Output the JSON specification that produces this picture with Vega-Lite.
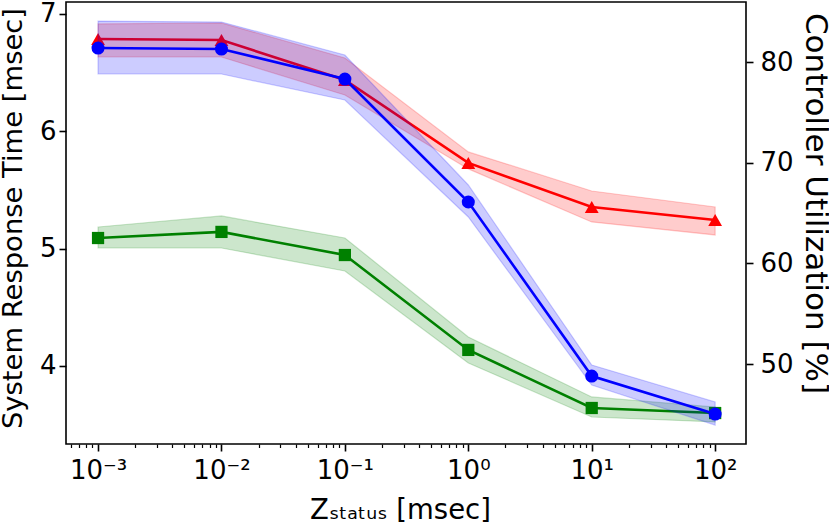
{
  "$schema": "https://vega.github.io/schema/vega-lite/v6.json",
  "width": 680,
  "height": 442,
  "autosize": {"type": "none"},
  "padding": {"left": 66, "top": 2, "right": 83, "bottom": 79},
  "background": "white",
  "config": {
    "font": "DejaVu Sans",
    "view": {"stroke": "black", "strokeWidth": 1.6},
    "axis": {
      "grid": false,
      "domain": false,
      "tickColor": "black",
      "tickWidth": 1.6,
      "tickSize": 7,
      "labelColor": "black",
      "titleColor": "black",
      "labelFont": "DejaVu Sans",
      "titleFont": "DejaVu Sans",
      "labelFontSize": 26,
      "titleFontSize": 27,
      "titleFontWeight": "normal"
    }
  },
  "datasets": {
    "d": [
      {"z": 0.001, "series": "Series 1", "mean": 6.787, "lo": 6.633, "hi": 6.915},
      {"z": 0.01, "series": "Series 1", "mean": 6.778, "lo": 6.633, "hi": 6.923},
      {"z": 0.1, "series": "Series 1", "mean": 6.437, "lo": 6.309, "hi": 6.625},
      {"z": 1, "series": "Series 1", "mean": 5.730, "lo": 5.679, "hi": 5.824},
      {"z": 10, "series": "Series 1", "mean": 5.355, "lo": 5.227, "hi": 5.491},
      {"z": 100, "series": "Series 1", "mean": 5.244, "lo": 5.116, "hi": 5.355},
      {"z": 0.001, "series": "Series 3", "mean": 5.090, "lo": 5.005, "hi": 5.184},
      {"z": 0.01, "series": "Series 3", "mean": 5.142, "lo": 5.005, "hi": 5.278},
      {"z": 0.1, "series": "Series 3", "mean": 4.945, "lo": 4.809, "hi": 5.090},
      {"z": 1, "series": "Series 3", "mean": 4.136, "lo": 4.025, "hi": 4.246},
      {"z": 10, "series": "Series 3", "mean": 3.641, "lo": 3.564, "hi": 3.735},
      {"z": 100, "series": "Series 3", "mean": 3.598, "lo": 3.522, "hi": 3.650},
      {"z": 0.001, "series": "Series 2", "mean": 81.39, "lo": 78.81, "hi": 84.07},
      {"z": 0.01, "series": "Series 2", "mean": 81.29, "lo": 78.81, "hi": 83.97},
      {"z": 0.1, "series": "Series 2", "mean": 78.31, "lo": 76.23, "hi": 80.70},
      {"z": 1, "series": "Series 2", "mean": 66.10, "lo": 64.61, "hi": 67.79},
      {"z": 10, "series": "Series 2", "mean": 48.82, "lo": 47.92, "hi": 49.91},
      {"z": 100, "series": "Series 2", "mean": 45.04, "lo": 43.95, "hi": 46.24}
    ]
  },
  "data": {"name": "d"},
  "resolve": {"scale": {"y": "independent"}, "axis": {"x": "independent"}},
  "layer": [
    {
      "transform": [{"filter": "datum.series != 'Series 2'"}],
      "encoding": {
        "x": {
          "field": "z",
          "type": "quantitative",
          "scale": {"type": "log", "domain": [0.00055, 177.8], "nice": false, "zero": false},
          "axis": {
            "values": [0.001, 0.01, 0.1, 1, 10, 100],
            "labelExpr": "datum.value < 0.005 ? '10⁻³' : datum.value < 0.05 ? '10⁻²' : datum.value < 0.5 ? '10⁻¹' : datum.value < 5 ? '10⁰' : datum.value < 50 ? '10¹' : '10²'",
            "labelPadding": 6,
            "labelFlush": false,
            "labelOverlap": false,
            "title": "Zₛₜₐₜᵤₛ [msec]",
            "titleFontSize": 27.5,
            "titlePadding": 13,
            "titleX": 334
          }
        }
      },
      "layer": [
        {
          "mark": {"type": "area", "fillOpacity": 0.2, "strokeOpacity": 0.2, "strokeWidth": 1.2},
          "encoding": {
            "y": {
              "field": "hi",
              "type": "quantitative",
              "scale": {"domain": [3.334, 7.102], "nice": false, "zero": false},
              "axis": {"values": [4, 5, 6, 7], "format": "d", "orient": "left", "labelPadding": 3, "title": "System Response Time [msec]", "titleFontSize": 27.4, "titlePadding": 12, "titleY": 216}
            },
            "y2": {"field": "lo"},
            "fill": {"field": "series", "type": "nominal", "scale": {"domain": ["Series 1", "Series 2", "Series 3"], "range": ["#ff0000", "#0000ff", "#008000"]}, "legend": null},
            "stroke": {"field": "series", "type": "nominal", "scale": {"domain": ["Series 1", "Series 2", "Series 3"], "range": ["#ff0000", "#0000ff", "#008000"]}, "legend": null},
            "detail": {"field": "series"}
          }
        },
        {
          "mark": {"type": "line", "strokeWidth": 2.6},
          "encoding": {
            "y": {"field": "mean", "type": "quantitative"},
            "color": {"field": "series", "type": "nominal", "scale": {"domain": ["Series 1", "Series 2", "Series 3"], "range": ["#ff0000", "#0000ff", "#008000"]}, "legend": null}
          }
        },
        {
          "mark": {"type": "point", "filled": true, "opacity": 1},
          "encoding": {
            "y": {"field": "mean", "type": "quantitative"},
            "color": {"field": "series", "type": "nominal", "scale": {"domain": ["Series 1", "Series 2", "Series 3"], "range": ["#ff0000", "#0000ff", "#008000"]}, "legend": null},
            "shape": {"field": "series", "type": "nominal", "scale": {"domain": ["Series 1", "Series 2", "Series 3"], "range": ["triangle-up", "circle", "square"]}, "legend": null},
            "size": {"field": "series", "type": "nominal", "scale": {"domain": ["Series 1", "Series 2", "Series 3"], "range": [190, 150, 180]}, "legend": null}
          }
        }
      ]
    },
    {
      "transform": [{"filter": "datum.series == 'Series 2'"}],
      "encoding": {
        "x": {
          "field": "z",
          "type": "quantitative",
          "scale": {"type": "log", "domain": [0.00055, 177.8], "nice": false, "zero": false},
          "axis": {
            "values": [0.0006, 0.0007, 0.0008, 0.0009, 0.002, 0.003, 0.004, 0.005, 0.006, 0.007, 0.008, 0.009, 0.02, 0.03, 0.04, 0.05, 0.06, 0.07, 0.08, 0.09, 0.2, 0.3, 0.4, 0.5, 0.6, 0.7, 0.8, 0.9, 2, 3, 4, 5, 6, 7, 8, 9, 20, 30, 40, 50, 60, 70, 80, 90],
            "labels": false,
            "tickSize": 3.5,
            "tickWidth": 1.2,
            "title": null,
            "orient": "bottom"
          }
        }
      },
      "layer": [
        {
          "mark": {"type": "area", "fillOpacity": 0.2, "strokeOpacity": 0.2, "strokeWidth": 1.2},
          "encoding": {
            "y": {
              "field": "hi",
              "type": "quantitative",
              "scale": {"domain": [42.07, 85.96], "nice": false, "zero": false},
              "axis": {"values": [50, 60, 70, 80], "format": "d", "orient": "right", "labelPadding": 7, "title": "Controller Utilization [%]", "titleFontSize": 31, "titlePadding": 5, "titleY": 201}
            },
            "y2": {"field": "lo"},
            "fill": {"field": "series", "type": "nominal", "scale": {"domain": ["Series 1", "Series 2", "Series 3"], "range": ["#ff0000", "#0000ff", "#008000"]}, "legend": null},
            "stroke": {"field": "series", "type": "nominal", "scale": {"domain": ["Series 1", "Series 2", "Series 3"], "range": ["#ff0000", "#0000ff", "#008000"]}, "legend": null}
          }
        },
        {
          "mark": {"type": "line", "strokeWidth": 2.6},
          "encoding": {
            "y": {"field": "mean", "type": "quantitative"},
            "color": {"field": "series", "type": "nominal", "scale": {"domain": ["Series 1", "Series 2", "Series 3"], "range": ["#ff0000", "#0000ff", "#008000"]}, "legend": null}
          }
        },
        {
          "mark": {"type": "point", "filled": true, "opacity": 1},
          "encoding": {
            "y": {"field": "mean", "type": "quantitative"},
            "color": {"field": "series", "type": "nominal", "scale": {"domain": ["Series 1", "Series 2", "Series 3"], "range": ["#ff0000", "#0000ff", "#008000"]}, "legend": null},
            "shape": {"field": "series", "type": "nominal", "scale": {"domain": ["Series 1", "Series 2", "Series 3"], "range": ["triangle-up", "circle", "square"]}, "legend": null},
            "size": {"field": "series", "type": "nominal", "scale": {"domain": ["Series 1", "Series 2", "Series 3"], "range": [190, 150, 180]}, "legend": null}
          }
        }
      ]
    }
  ]
}
